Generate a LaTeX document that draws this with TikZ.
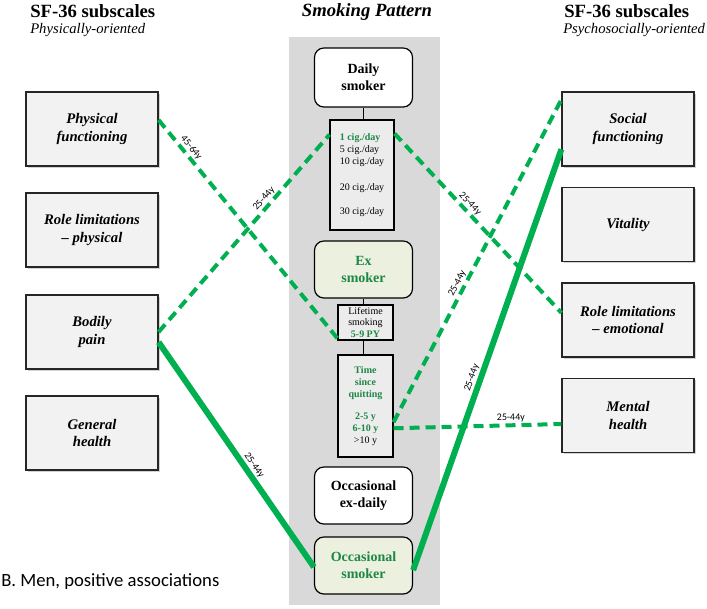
\documentclass[tikz,border=0pt]{standalone}
\usepackage{fontspec}
\setmainfont{Liberation Serif}
\newfontfamily\lblfont{Carlito}
\usetikzlibrary{calc,shadows}
\definecolor{lgreen}{RGB}{0,176,80}
\definecolor{tgreen}{RGB}{30,135,70}
\definecolor{bggray}{RGB}{217,217,217}
\definecolor{boxgray}{RGB}{242,242,242}
\definecolor{smallgray}{RGB}{236,236,236}
\definecolor{exfill}{RGB}{235,241,222}
\tikzset{
  sfbox/.style={draw=black!85, line width=0.9pt, fill=boxgray, minimum width=99pt, minimum height=55.5pt,
    align=center, inner sep=0pt, font=\rmfamily\fontsize{11}{13}\selectfont\bfseries\itshape,
    drop shadow={shadow xshift=1.2pt, shadow yshift=-1.2pt, opacity=0.35}},
  rbox/.style={draw=black, line width=0.9pt, rounded corners=7pt, minimum width=73.5pt, minimum height=42.75pt,
    align=center, inner sep=0pt, font=\rmfamily\fontsize{10.5}{13}\selectfont\bfseries},
  sbox/.style={draw=black, line width=0.8pt, fill=smallgray, inner sep=0pt, font=\rmfamily\fontsize{7.5}{9}\selectfont},
  dline/.style={lgreen, line width=3pt, dash pattern=on 7.5pt off 4.5pt},
  sline/.style={lgreen, line width=4.5pt},
  elbl/.style={font=\lblfont\fontsize{7.5}{8}\selectfont, sloped, above, inner sep=1pt, text=black},
  conn/.style={draw=black, line width=0.9pt},
  ttl/.style={font=\rmfamily\fontsize{14}{16}\selectfont\bfseries, inner sep=0pt},
  sub/.style={font=\rmfamily\fontsize{11}{13}\selectfont\itshape, inner sep=0pt}
}
\begin{document}
\begin{tikzpicture}[x=0.75pt, y=-0.75pt]
\useasboundingbox (0,0) rectangle (707,608);
\fill[bggray] (289,37) rectangle (440,605);

% titles
\node[ttl, anchor=west] (tl) at (30,11) {SF-36 subscales};
\node[sub, anchor=west] (stl) at (30,30) {Physically-oriented};
\node[ttl, font=\rmfamily\fontsize{14}{16}\selectfont\bfseries\itshape] (tc) at (367,12) {Smoking Pattern};
\node[ttl, anchor=west] (tr) at (564,11) {SF-36 subscales};
\node[sub, anchor=west] (str) at (563,30) {Psychosocially-oriented};

% left boxes
\node[sfbox] (pf) at (92,129) {Physical\\functioning};
\node[sfbox] (rlp) at (92,230) {Role limitations\\– physical};
\node[sfbox] (bp) at (92,332) {Bodily\\pain};
\node[sfbox] (gh) at (92,433) {General\\health};

% right boxes
\node[sfbox] (sf) at (628,129) {Social\\functioning};
\node[sfbox] (vit) at (628,224.5) {Vitality};
\node[sfbox] (rle) at (628,320) {Role limitations\\– emotional};
\node[sfbox] (mh) at (628,415.5) {Mental\\health};

% centre column
\node[rbox, fill=white, minimum height=44.25pt] (daily) at (363.5,77.5) {Daily\\smoker};
\node[sbox, minimum width=48pt, minimum height=82.5pt, align=left] (cig) at (362,175)
  {{\color{tgreen}\bfseries 1 cig./day}\\5 cig./day\\10 cig./day\\[11pt]20 cig./day\\[9pt]30 cig./day};
\node[rbox, fill=exfill, text=tgreen] (ex) at (363.5,269.5) {Ex\\smoker};
\node[sbox, minimum width=41.25pt, minimum height=26.25pt, align=center, font=\rmfamily\fontsize{7.5}{8.6}\selectfont] (life) at (365.5,322.5)
  {Lifetime\\smoking\\{\color{tgreen}\bfseries 5-9 PY}};
\node[sbox, minimum width=41.25pt, minimum height=76.5pt, align=center, text=tgreen, font=\rmfamily\fontsize{7.5}{9}\selectfont\bfseries] (time) at (365.5,406)
  {Time\\since\\quitting\\[7pt]2-5 y\\6-10 y\\{\color{black}\mdseries >10 y}};
\node[rbox, fill=white] (occex) at (363.5,495.5) {Occasional\\ex-daily};
\node[rbox, fill=exfill, text=tgreen] (occ) at (363.5,565.5) {Occasional\\smoker};

\draw[conn] (daily.south) -- (daily.south |- cig.north);
\draw[conn] (ex.south) -- (ex.south |- life.north);
\draw[conn] (ex.south |- life.south) -- (ex.south |- time.north);

% associations
\draw[dline] ($(pf.north east)!0.38!(pf.south east)$) -- node[elbl, pos=0.15] {45-64y} ($(life.north west)!0.94!(life.south west)$);
\draw[dline] (bp.east) -- node[elbl, pos=0.65] {25-44y} ($(cig.north west)!0.136!(cig.south west)$);
\draw[dline] ($(cig.north east)!0.127!(cig.south east)$) -- node[elbl, pos=0.42] {25-44y} ($(rle.north west)!0.405!(rle.south west)$);
\draw[dline] ($(time.north east)!0.657!(time.south east)$) -- node[elbl, pos=0.42] {25-44y} ($(sf.north west)!0.108!(sf.south west)$);
\draw[dline] ($(time.north east)!0.716!(time.south east)$) -- node[elbl, pos=0.70] {25-44y} ($(mh.north west)!0.613!(mh.south west)$);
\draw[sline] ($(bp.north east)!0.635!(bp.south east)$) -- node[elbl, pos=0.57] {25-44y} ($(occ.north west)!0.526!(occ.south west)$);
\draw[sline] ($(occ.north east)!0.58!(occ.south east)$) -- node[elbl, pos=0.45] {25-44y} ($(sf.north west)!0.77!(sf.south west)$);

\node[anchor=west, inner sep=0pt, font=\lblfont\fontsize{14}{16}\selectfont] (cap) at (1,582) {B. Men, positive associations};
\end{tikzpicture}
\end{document}
